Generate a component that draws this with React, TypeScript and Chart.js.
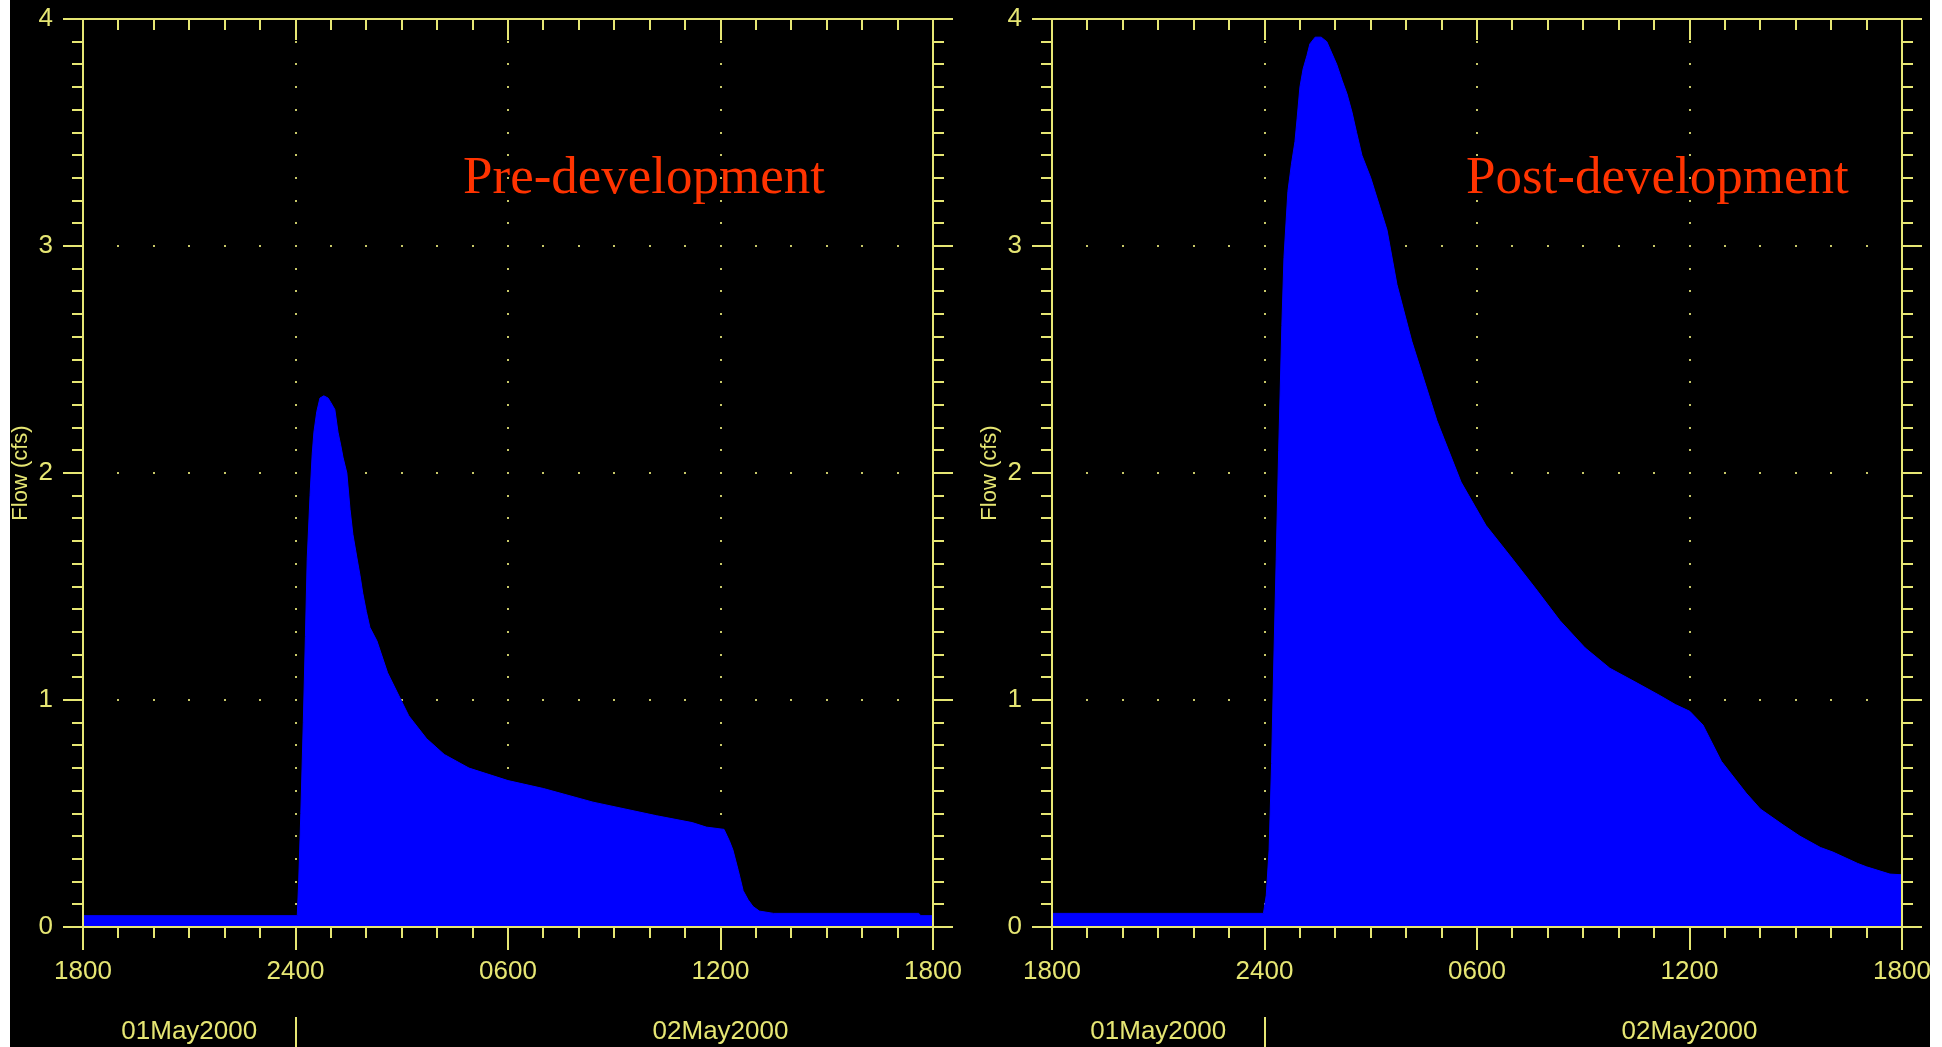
import React, { useEffect, useRef } from 'react';
import { Chart, registerables } from 'chart.js';

Chart.register(...registerables);

// ---- data (hours after 1800 on 01May2000, flow in cfs) ----
const hoursPre = [
  0, 6.05, 6.09, 6.15, 6.22, 6.28, 6.33, 6.41, 6.47, 6.52, 6.6, 6.69, 6.8, 6.92, 7.0,
  7.11, 7.2, 7.28, 7.34, 7.45, 7.54, 7.62, 7.73, 7.82, 7.9, 8.0, 8.1, 8.3, 8.6, 9.2,
  9.7, 10.2, 10.9, 12.0, 13.0, 14.4, 16.2, 17.2, 17.6, 18.1, 18.25, 18.35, 18.5, 18.64,
  18.78, 18.92, 19.1, 19.5, 23.6, 23.65, 24,
];
const flowPre = [
  0.05, 0.05, 0.2, 0.5, 0.9, 1.28, 1.62, 1.9, 2.08, 2.18, 2.27, 2.33, 2.34, 2.33, 2.31,
  2.28, 2.18, 2.12, 2.07, 2.0, 1.84, 1.73, 1.63, 1.55, 1.47, 1.39, 1.32, 1.26, 1.12, 0.93,
  0.83, 0.76, 0.7, 0.645, 0.61, 0.55, 0.49, 0.46, 0.44, 0.43, 0.38, 0.34, 0.25, 0.16,
  0.12, 0.09, 0.07, 0.06, 0.06, 0.05, 0.05,
];

const hoursPost = [
  0, 5.97, 6.05, 6.13, 6.2, 6.27, 6.33, 6.4, 6.49, 6.55, 6.66, 6.76, 6.86, 6.92, 7.0,
  7.09, 7.2, 7.28, 7.43, 7.6, 7.76, 7.9, 8.04, 8.19, 8.33, 8.47, 8.6, 8.75, 9.0, 9.46,
  9.74, 10.16, 10.87, 11.55, 12.25, 12.96, 13.66, 14.34, 15.05, 15.75, 16.46, 17.16,
  17.6, 18.01, 18.38, 18.9, 19.6, 20.0, 20.64, 21.12, 21.7, 22.05, 22.75, 23.0, 23.66, 24,
];
const flowPost = [
  0.06, 0.06, 0.14, 0.34, 0.72, 1.22, 1.62, 2.1, 2.65, 2.95, 3.24, 3.36, 3.46, 3.56, 3.7,
  3.78, 3.84, 3.89, 3.92, 3.92, 3.9, 3.85, 3.8, 3.73, 3.67, 3.59, 3.5, 3.4, 3.3, 3.07,
  2.83, 2.58, 2.23, 1.96, 1.77, 1.63, 1.49, 1.35, 1.23, 1.14, 1.08, 1.02,
  0.98, 0.95, 0.89, 0.73, 0.59, 0.52, 0.45, 0.4, 0.35, 0.33, 0.28, 0.265, 0.233, 0.23,
];

const xTickLabels = ['1800', '2400', '0600', '1200', '1800'];
const dateLabels = ['01May2000', '02May2000'];
const dateLabelHours = [3, 18];
const daySeparatorHours = [6];
const panelTitles = ['Pre-development', 'Post-development'];
const panelTitleHours = [10.73, 11.69];
const panelTitleFlow = 3.233;
const yAxisTitle = 'Flow (cfs)';

// ---- styles ----
const YELLOW = '#e6e673';
const DOT = '#c8c868';
const BLUE = '#0000ff';
const RED = '#ff3300';
const TICK_FONT = 'Liberation Sans';
const CLEAR = 'rgba(0,0,0,0)';

const hecPlugin = {
  id: 'hecFrame',
  beforeDatasetsDraw(chart: any) {
    const { ctx, scales } = chart;
    const x = scales.x;
    const y = scales.y;
    ctx.save();
    ctx.fillStyle = DOT;
    for (let h = 6; h < 24; h += 6) {
      const px = Math.round(x.getPixelForValue(h));
      for (let i = 1; i < 40; i++) {
        const py = Math.round(y.getPixelForValue(i / 10));
        ctx.fillRect(px - 1, py - 1, 2, 2);
      }
    }
    for (let v = 1; v < 4; v++) {
      const py = Math.round(y.getPixelForValue(v));
      for (let h = 1; h < 24; h++) {
        const px = Math.round(x.getPixelForValue(h));
        ctx.fillRect(px - 1, py - 1, 2, 2);
      }
    }
    ctx.restore();
  },
  afterDatasetsDraw(chart: any) {
    const { ctx, chartArea: a, scales } = chart;
    const x = scales.x;
    const y = scales.y;
    const L = Math.round(a.left);
    const R = Math.round(a.right);
    const T = Math.round(a.top);
    const B = Math.round(a.bottom);
    ctx.save();
    ctx.fillStyle = YELLOW;
    ctx.fillRect(L - 1, T - 1, R - L + 2, 2);
    ctx.fillRect(L - 1, B - 1, R - L + 2, 2);
    ctx.fillRect(L - 1, T - 1, 2, B - T + 2);
    ctx.fillRect(R - 1, T - 1, 2, B - T + 2);
    for (let i = 0; i <= 40; i++) {
      const py = Math.round(y.getPixelForValue(i / 10));
      const major = i % 10 === 0;
      const len = major ? 20 : 11;
      ctx.fillRect(L - len, py - 1, len, 2);
      ctx.fillRect(R, py - 1, len, 2);
    }
    for (let h = 0; h <= 24; h++) {
      const px = Math.round(x.getPixelForValue(h));
      const major = h % 6 === 0;
      ctx.fillRect(px - 1, T, 2, major ? 21 : 11);
      ctx.fillRect(px - 1, B, 2, major ? 23 : 11);
    }
    daySeparatorHours.forEach((h) => {
      const px = Math.round(x.getPixelForValue(h));
      ctx.fillRect(px - 1, B + 90, 2, chart.height - (B + 90));
    });
    ctx.font = `26px "${TICK_FONT}"`;
    ctx.textAlign = 'center';
    ctx.textBaseline = 'middle';
    dateLabels.forEach((lab, i) => {
      ctx.fillText(lab, x.getPixelForValue(dateLabelHours[i]), B + 105);
    });
    const idx = chart.options.plugins.hecFrame.panel;
    ctx.font = '53px "Liberation Serif"';
    ctx.fillStyle = RED;
    ctx.textAlign = 'left';
    ctx.textBaseline = 'alphabetic';
    ctx.fillText(panelTitles[idx], x.getPixelForValue(panelTitleHours[idx]), y.getPixelForValue(panelTitleFlow));
    ctx.restore();
  },
};

function Panel({ hours, flow, panel, left }: { hours: number[]; flow: number[]; panel: number; left: number }) {
  const ref = useRef<HTMLCanvasElement | null>(null);
  useEffect(() => {
    const canvas = ref.current;
    if (!canvas) return;
    const chart = new Chart(canvas, {
      type: 'line',
      data: {
        datasets: [
          {
            data: hours.map((h, i) => ({ x: h, y: flow[i] })),
            borderColor: BLUE,
            borderWidth: 1,
            backgroundColor: BLUE,
            fill: 'origin',
            pointRadius: 0,
            tension: 0,
          },
        ],
      },
      options: {
        responsive: false,
        animation: false,
        devicePixelRatio: 1,
        layout: { padding: { top: 19, right: 37, bottom: 0, left: 0 } },
        plugins: {
          legend: { display: false },
          tooltip: { enabled: false },
          hecFrame: { panel },
        } as any,
        scales: {
          x: {
            type: 'linear',
            min: 0,
            max: 24,
            grid: { display: true, drawOnChartArea: false, drawTicks: true, tickLength: 29, color: CLEAR, tickColor: CLEAR },
            border: { display: false },
            ticks: {
              stepSize: 6,
              color: YELLOW,
              font: { family: TICK_FONT, size: 26 },
              padding: 0,
              maxRotation: 0,
              autoSkip: false,
              callback: (v: any) => xTickLabels[Math.round(Number(v) / 6)],
            },
            afterFit: (s: any) => {
              s.height = 120;
            },
          },
          y: {
            type: 'linear',
            min: 0,
            max: 4,
            grid: { display: true, drawOnChartArea: false, drawTicks: true, tickLength: 30, color: CLEAR, tickColor: CLEAR },
            border: { display: false },
            ticks: {
              stepSize: 1,
              color: YELLOW,
              font: { family: TICK_FONT, size: 26 },
              padding: 0,
              callback: (v: any) => String(v),
            },
            title: {
              display: true,
              text: yAxisTitle,
              color: YELLOW,
              font: { family: TICK_FONT, size: 22, lineHeight: 1 },
              padding: { top: 0, bottom: 0 },
            },
            afterFit: (s: any) => {
              s.width = 73;
            },
          },
        },
      } as any,
      plugins: [hecPlugin],
    });
    return () => chart.destroy();
  }, []);
  return (
    <canvas
      ref={ref}
      width={960}
      height={1047}
      style={{ position: 'absolute', left, top: 0, width: 960, height: 1047 }}
    />
  );
}

export default function App() {
  return (
    <div style={{ position: 'fixed', left: 0, top: 0, width: 1942, height: 1047, background: '#ffffff' }}>
      <div
        style={{
          position: 'absolute',
          left: 10,
          top: 0,
          width: 1920,
          height: 1047,
          background: '#000000',
          overflow: 'hidden',
        }}
      >
        <Panel hours={hoursPre} flow={flowPre} panel={0} left={0} />
        <Panel hours={hoursPost} flow={flowPost} panel={1} left={969} />
      </div>
    </div>
  );
}
